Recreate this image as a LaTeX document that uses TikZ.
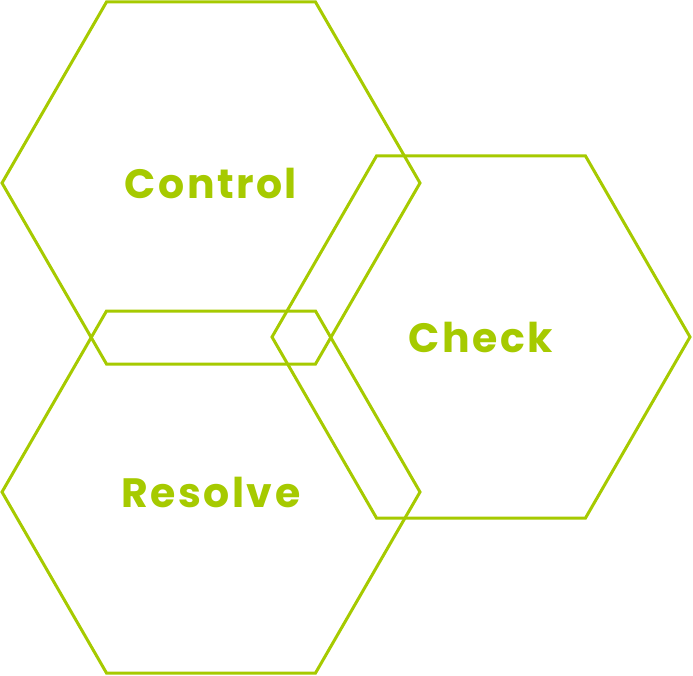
\documentclass[tikz,border=0pt]{standalone}
\usepackage{fontspec}
\setmainfont{Poppins}
\usetikzlibrary{shapes.geometric}
\definecolor{hexgreen}{RGB}{166,202,0}
\tikzset{
    hexa/.style={regular polygon,regular polygon sides=6,minimum size=418pt,
        inner sep=0pt,draw=hexgreen,line width=3pt,text=hexgreen,
        font=\fontsize{41}{48}\selectfont\bfseries\addfontfeature{LetterSpace=6}}
}
\begin{document}
\begin{tikzpicture}[x=1pt,y=-1pt]
        \useasboundingbox (0,0) rectangle (693,676);
        %Hexagons
        \node[hexa] (control) at (211,183) {Control};
        \node[hexa] (check) at (481,337) {Check};
        \node[hexa] (resolve) at (211,492) {Resolve};
    \end{tikzpicture}
\end{document}
